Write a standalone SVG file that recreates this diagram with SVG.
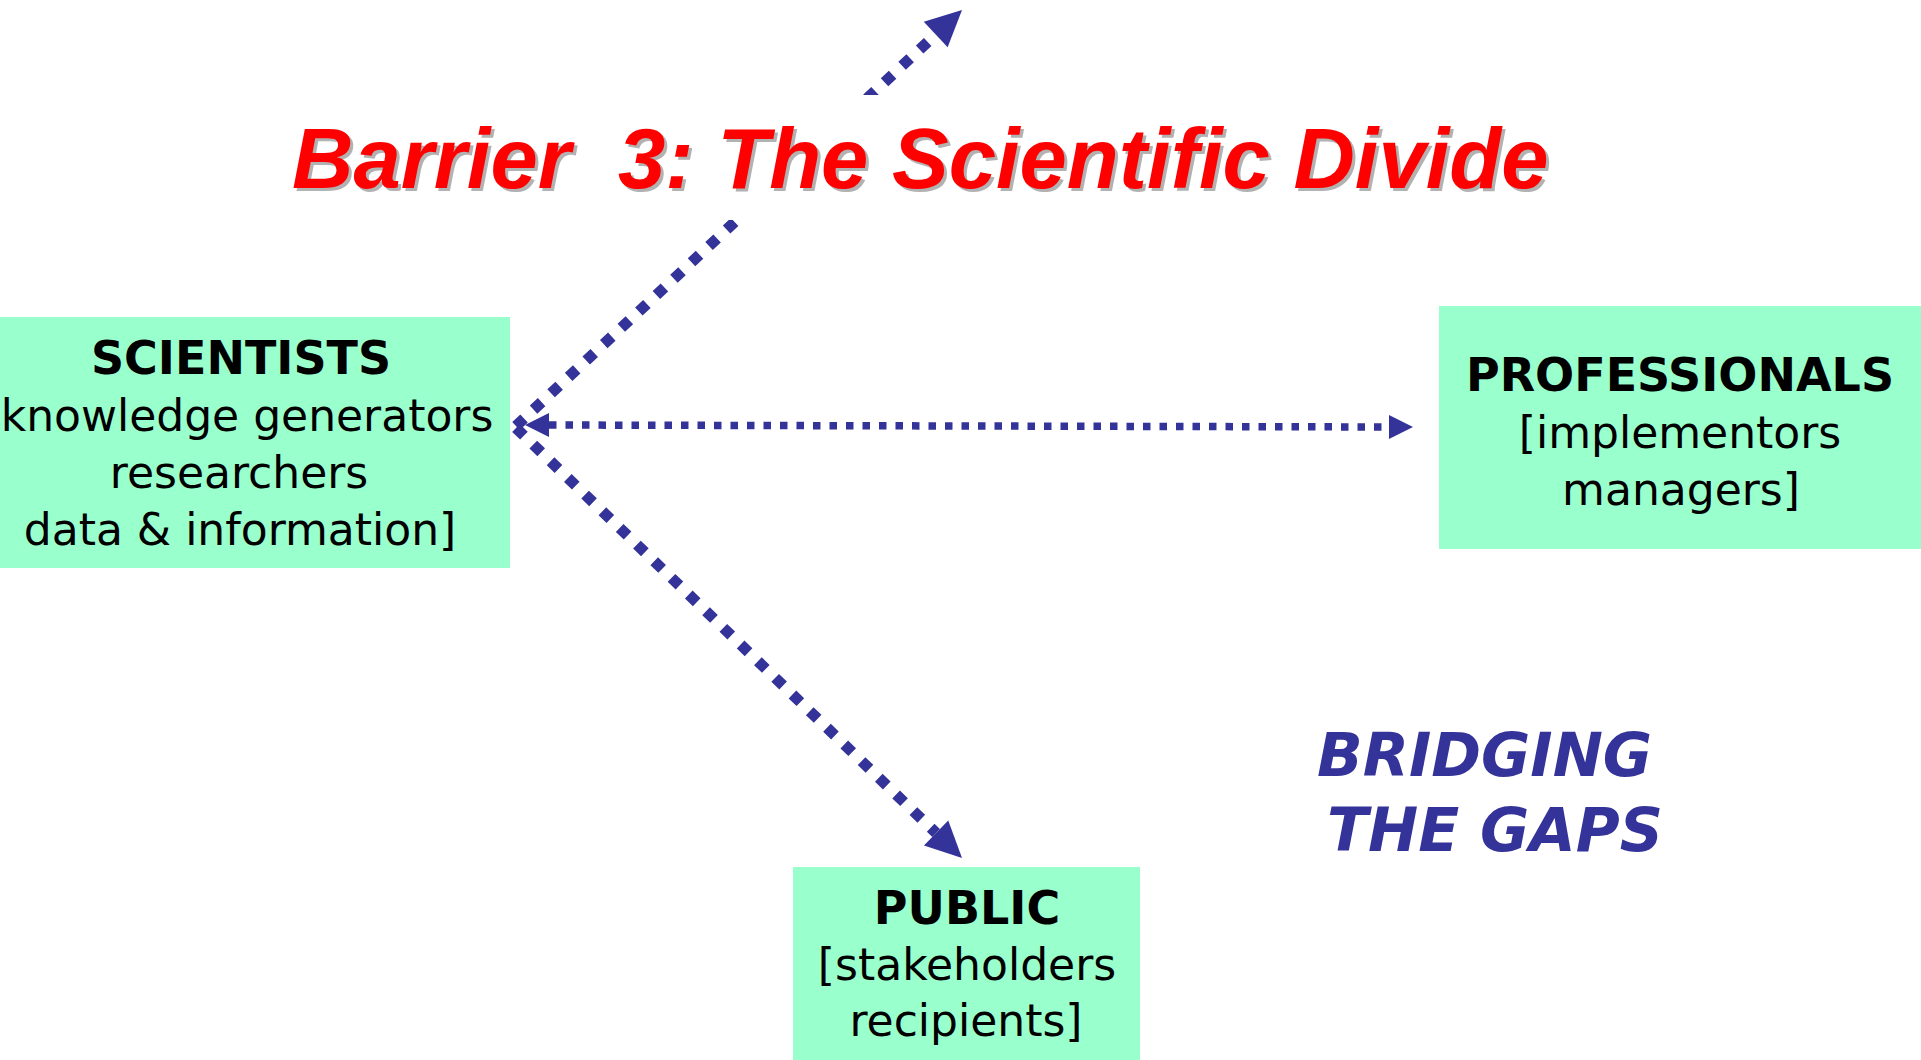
<svg xmlns="http://www.w3.org/2000/svg" width="1921" height="1060" viewBox="0 0 1921 1060">
<style>
.box{fill:#99FFCC;}
.hd{font-family:"DejaVu Sans",sans-serif;font-weight:bold;font-size:46px;fill:#000;text-anchor:middle;}
.tx{font-family:"DejaVu Sans",sans-serif;font-size:44px;fill:#000;text-anchor:middle;}
.diag{stroke:#333399;stroke-width:11;stroke-dasharray:11 13;fill:none;}
.hor{stroke:#333399;stroke-width:7.5;stroke-dasharray:7.5 9;fill:none;}
.ttl{font-family:"Liberation Sans",Arial,sans-serif;font-weight:bold;font-style:italic;font-size:85px;white-space:pre;}
.gap{font-family:"DejaVu Sans",sans-serif;font-weight:bold;font-style:italic;font-size:60px;fill:#333399;}
</style>
<defs>
<marker id="bigHead" markerUnits="userSpaceOnUse" markerWidth="36" markerHeight="35" refX="0" refY="17.5" orient="auto" overflow="visible">
<path d="M0,0 L36,17.5 L0,35 z" fill="#333399"/>
</marker>
<marker id="smallHead" markerUnits="userSpaceOnUse" markerWidth="24" markerHeight="24" refX="0" refY="12" orient="auto-start-reverse" overflow="visible">
<path d="M0,0 L24,12 L0,24 z" fill="#333399"/>
</marker>
</defs>
<rect width="1921" height="1060" fill="#FFFFFF"/>

<g id="scientists">
<rect class="box" x="0" y="317" width="510" height="251"/>
<text class="hd" x="241" y="374">SCIENTISTS</text>
<text class="tx" x="247" y="431" font-size="43.5">knowledge generators</text>
<text class="tx" x="239" y="488">researchers</text>
<text class="tx" x="240" y="545">data &amp; information]</text>
</g>

<g id="professionals">
<rect class="box" x="1439" y="306" width="482" height="243"/>
<text class="hd" x="1680" y="391">PROFESSIONALS</text>
<text class="tx" x="1680" y="448">[implementors</text>
<text class="tx" x="1681" y="505">managers]</text>
</g>

<g id="public">
<rect class="box" x="793" y="867" width="347" height="193"/>
<text class="hd" x="967" y="924">PUBLIC</text>
<text class="tx" x="967" y="980">[stakeholders</text>
<text class="tx" x="966" y="1036">recipients]</text>
</g>

<g id="connectors">
<line class="diag" x1="516" y1="426" x2="935.7" y2="34.5" marker-end="url(#bigHead)"/>
<line class="diag" x1="516" y1="428" x2="936.1" y2="833" marker-end="url(#bigHead)"/>
<line class="hor" x1="549" y1="425" x2="1389" y2="427" marker-start="url(#smallHead)" marker-end="url(#smallHead)"/>
</g>

<g id="title">
<rect x="285" y="95" width="1290" height="125" fill="#FFFFFF"/>
<text class="ttl" x="295" y="191" fill="#B2B2B2" xml:space="preserve">Barrier  3: The Scientific Divide</text>
<text class="ttl" x="292" y="188" fill="#FF0000" xml:space="preserve">Barrier  3: The Scientific Divide</text>
</g>

<g id="bridging">
<text class="gap" x="1317" y="776">BRIDGING</text>
<text class="gap" x="1327" y="851" font-size="59">THE GAPS</text>
</g>
</svg>
